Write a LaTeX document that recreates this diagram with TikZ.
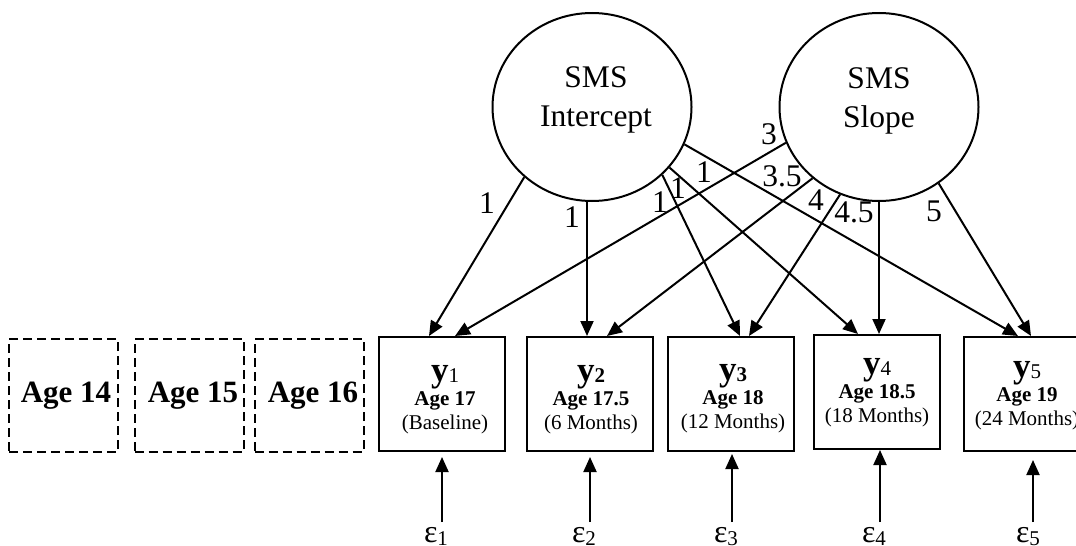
\documentclass[tikz,border=0pt]{standalone}
\usepackage{fontspec}
\setmainfont{Liberation Serif}
\usetikzlibrary{arrows.meta,shapes.geometric}
\begin{document}
\begin{tikzpicture}[x=1pt,y=-1pt,line width=2pt,
  latent/.style={draw,ellipse,minimum width=199pt,minimum height=188pt,inner sep=0pt},
  latenttext/.style={inner sep=0pt,align=center,font=\fontsize{31.5}{39}\selectfont},
  obs/.style={draw,minimum width=126pt,minimum height=114pt,inner sep=0pt},
  obstext/.style={inner sep=0pt,align=center,font=\fontsize{21}{24}\selectfont},
  ghost/.style={draw,dash pattern=on 9pt off 5pt,minimum width=109pt,minimum height=113pt,inner sep=0pt},
  ghosttext/.style={inner sep=0pt,font=\fontsize{31}{31}\selectfont\bfseries},
  load/.style={-{Triangle[length=15pt,width=13pt]}},
  wt/.style={inner sep=0pt,font=\fontsize{31.5}{31.5}\selectfont},
  eps/.style={inner sep=0pt,anchor=base,font=\fontsize{32}{32}\selectfont}]
\newcommand{\ybig}[1]{{\fontsize{35}{35}\selectfont\bfseries y}{\raisebox{-1pt}{#1}}}
\clip (0,0) rectangle (1076,546);

% growth factors
\node[latent] (int) at (592,107) {};
\node[latenttext] (intt) at (596,100) {SMS\\Intercept};
\node[latent] (slp) at (879,107) {};
\node[latenttext] (slpt) at (879,101) {SMS\\Slope};

% earlier ages, not observed
\node[ghost] (a14) at (63.5,395.5) {};
\node[ghosttext] (a14t) at (66,396) {Age 14};
\node[ghost] (a15) at (189,395.5) {};
\node[ghosttext] (a15t) at (193,396) {Age 15};
\node[ghost] (a16) at (309,395.5) {};
\node[ghosttext] (a16t) at (313,396) {Age 16};

% measurement occasions
\node[obs] (y1) at (442,394) {};
\node[obstext] (y1t) at (445,400) {\ybig{1}\\\textbf{Age 17}\\(Baseline)};
\node[obs] (y2) at (590,394) {};
\node[obstext] (y2t) at (591,400) {\ybig{\textbf{2}}\\\textbf{Age 17.5}\\(6 Months)};
\node[obs] (y3) at (731,394) {};
\node[obstext] (y3t) at (733,399) {\ybig{\textbf{3}}\\\textbf{Age 18}\\(12 Months)};
\node[obs] (y4) at (876.5,392) {};
\node[obstext] (y4t) at (877,393) {\ybig{4}\\\textbf{Age 18.5}\\(18 Months)};
\node[obs] (y5) at (1027,394) {};
\node[obstext] (y5t) at (1027,396) {\ybig{5}\\\textbf{Age 19}\\(24 Months)};

% intercept loadings
\draw[load] (int.226) -- ([xshift=-13pt]y1.north);
\draw[load] ([xshift=-5pt]int.south) -- ([xshift=-3pt]y2.north);
\draw[load] (int.316) -- ([xshift=9pt]y3.north);
\draw[load] (int.322) -- ([xshift=-18.5pt]y4.north);
\draw[load] (int.338) -- ([xshift=-9pt]y5.north);

% slope loadings
\draw[load] (slp.201) -- ([xshift=13pt]y1.north);
\draw[load] (slp.227.5) -- ([xshift=17pt]y2.north);
\draw[load] (slp.246) -- ([xshift=18pt]y3.north);
\draw[load] (slp.south) -- ([xshift=2.5pt]y4.north);
\draw[load] (slp.308.7) -- ([xshift=4pt]y5.north);

% loading values
\node[wt] (w1) at (487,203) {1};
\node[wt] (w2) at (572,217) {1};
\node[wt] (w3) at (660,202) {1};
\node[wt] (w4) at (678,188) {1};
\node[wt] (w5) at (704,172) {1};
\node[wt] (v1) at (769,134) {3};
\node[wt] (v2) at (782,176) {3.5};
\node[wt] (v3) at (816,200) {4};
\node[wt] (v4) at (854,212) {4.5};
\node[wt] (v5) at (934,211) {5};

% residuals
\coordinate (r1) at (442,522);
\coordinate (r2) at (590,522);
\coordinate (r3) at (732,522);
\coordinate (r4) at (880,522);
\coordinate (r5) at (1033,522);
\draw[load,shorten >=5pt] (r1) -- (r1 |- y1.south);
\draw[load,shorten >=5pt] (r2) -- (r2 |- y2.south);
\draw[load,shorten >=2pt] (r3) -- (r3 |- y3.south);
\draw[load] (r4) -- (r4 |- y4.south);
\draw[load,shorten >=8pt] (r5) -- (r5 |- y5.south);
\node[eps] (e1) at (436,542) {ε{\fontsize{21}{21}\selectfont\raisebox{-3pt}{1}}};
\node[eps] (e2) at (584,542) {ε{\fontsize{21}{21}\selectfont\raisebox{-3pt}{2}}};
\node[eps] (e3) at (726,542) {ε{\fontsize{21}{21}\selectfont\raisebox{-3pt}{3}}};
\node[eps] (e4) at (874,542) {ε{\fontsize{21}{21}\selectfont\raisebox{-3pt}{4}}};
\node[eps] (e5) at (1028,542) {ε{\fontsize{21}{21}\selectfont\raisebox{-3pt}{5}}};
\end{tikzpicture}
\end{document}
